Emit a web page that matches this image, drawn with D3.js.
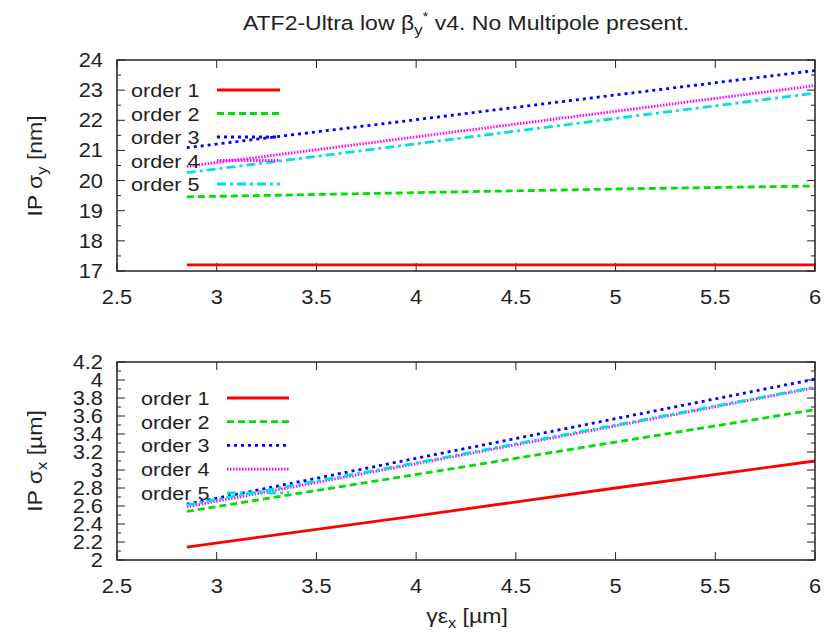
<!DOCTYPE html>
<html>
<head>
<meta charset="utf-8">
<script src="https://cdn.jsdelivr.net/npm/d3@7"></script>
<style>
  body { margin: 0; background: #fff; }
  text { font-family: "Liberation Sans", Arial, sans-serif; fill: #222; }
</style>
</head>
<body>
<script>
// data
var emitX = [2.85, 4, 5, 6];
var orders = ['order 1', 'order 2', 'order 3', 'order 4', 'order 5'];

// IP sigma_y [nm]
var sigY1 = [17.2, 17.2, 17.2, 17.2];
var sigY2 = [19.46, 19.6, 19.72, 19.82];
var sigY3 = [21.09, 22.02, 22.84, 23.65];
var sigY4 = [20.47, 21.45, 22.3, 23.15];
var sigY5 = [20.26, 21.22, 22.06, 22.9];

// IP sigma_x [um]
var sigX1 = [2.144, 2.49, 2.8, 3.10];
var sigX2 = [2.54, 2.95, 3.31, 3.67];
var sigX3 = [2.62, 3.13, 3.57, 4.01];
var sigX4 = [2.59, 3.07, 3.49, 3.915];
var sigX5 = [2.61, 3.08, 3.50, 3.92];

var xTicks = [2.5, 3, 3.5, 4, 4.5, 5, 5.5, 6];
var yTicksTop = [17, 18, 19, 20, 21, 22, 23, 24];
var yTicksBot = [2, 2.2, 2.4, 2.6, 2.8, 3, 3.2, 3.4, 3.6, 3.8, 4, 4.2];

//styles
var colors = ['#ff0000', '#00e000', '#0000ff', '#ff00ff', '#00e0e0'];
var dashes = [null, '7,4', '3,4', '1.5,1.5', '9,4,3,4'];

var W = 825, H = 634;
var svg = d3.select('body').append('svg').attr('width', W).attr('height', H);

// text in the picture is a bit wider than tall, so stretch it sideways
function label(parent, x, y, size, sx, anchor, html, rot) {
  var t = 'translate(' + x + ',' + y + ')' + (rot ? ' rotate(' + rot + ')' : '') + ' scale(' + sx + ',1)';
  return parent.append('text').attr('transform', t).attr('text-anchor', anchor)
    .style('font-size', size + 'px').html(html);
}

label(svg, 466, 30, 19.5, 1.18, 'middle',
  'ATF2-Ultra low β<tspan dy="5" font-size="14">y</tspan><tspan dy="-14" font-size="13">*</tspan><tspan dy="9"> v4. No Multipole present.</tspan>');

function panel(opts) {
  var x = d3.scaleLinear().domain([2.5, 6]).range([117, 815]);
  var y = d3.scaleLinear().domain(opts.ydomain).range([opts.bottom, opts.top]);
  var g = svg.append('g');

  // ticks (inward, mirrored)
  var minor = d3.range(opts.ydomain[0], opts.ydomain[1] + 1e-9, opts.minorStep);
  minor.forEach(function(v) {
    var major = opts.yticks.some(function(t) { return Math.abs(t - v) < 1e-6; });
    var len = major ? 8 : 4;
    g.append('line').attr('x1', 117).attr('x2', 117 + len).attr('y1', y(v)).attr('y2', y(v)).attr('stroke', '#222');
    g.append('line').attr('x1', 815).attr('x2', 815 - len).attr('y1', y(v)).attr('y2', y(v)).attr('stroke', '#222');
  });
  xTicks.forEach(function(v) {
    g.append('line').attr('x1', x(v)).attr('x2', x(v)).attr('y1', opts.bottom).attr('y2', opts.bottom - 8).attr('stroke', '#222');
    g.append('line').attr('x1', x(v)).attr('x2', x(v)).attr('y1', opts.top).attr('y2', opts.top + 8).attr('stroke', '#222');
    label(g, x(v), opts.bottom + 33, 19.5, 1.12, 'middle', v);
  });
  opts.yticks.forEach(function(v) {
    label(g, 103, y(v) + 7, 19.5, 1.12, 'end', v);
  });

  // series
  var line = d3.line().x(function(d, i) { return x(emitX[i]); }).y(function(d) { return y(d); });
  opts.series.forEach(function(s, i) {
    g.append('path').attr('d', line(s)).attr('fill', 'none')
      .attr('stroke', colors[i]).attr('stroke-width', 2.8)
      .attr('stroke-dasharray', dashes[i]);
  });

  // legend
  orders.forEach(function(name, i) {
    var ly = opts.legY + i * opts.legStep;
    label(g, opts.legX, ly + 7, 18.5, 1.17, 'start', name);
    g.append('line').attr('x1', opts.legLine[0]).attr('x2', opts.legLine[1])
      .attr('y1', ly).attr('y2', ly).attr('stroke', colors[i]).attr('stroke-width', 2.8)
      .attr('stroke-dasharray', dashes[i]);
  });

  g.append('rect').attr('x', 117).attr('y', opts.top).attr('width', 815 - 117)
    .attr('height', opts.bottom - opts.top).attr('fill', 'none').attr('stroke', '#222').attr('stroke-width', 1.5);

  label(g, 42, opts.labY, 19.5, 1.18, 'middle', opts.ylabel, -90);
}

panel({
  ydomain: [17, 24], top: 60, bottom: 271, yticks: yTicksTop, minorStep: 0.5,
  series: [sigY1, sigY2, sigY3, sigY4, sigY5],
  legX: 131, legY: 90, legStep: 23.5, legLine: [217, 280],
  labY: 166,
  ylabel: 'IP σ<tspan dy="5" font-size="14">y</tspan><tspan dy="-5"> [nm]</tspan>'
});

panel({
  ydomain: [2, 4.2], top: 362, bottom: 560, yticks: yTicksBot, minorStep: 0.1,
  series: [sigX1, sigX2, sigX3, sigX4, sigX5],
  legX: 141, legY: 398, legStep: 23.7, legLine: [227, 289],
  labY: 461,
  ylabel: 'IP σ<tspan dy="5" font-size="14">x</tspan><tspan dy="-5"> [µm]</tspan>'
});

label(svg, 467, 623, 19.5, 1.18, 'middle',
  'γε<tspan dy="5" font-size="14">x</tspan><tspan dy="-5"> [µm]</tspan>');
</script>
</body>
</html>
